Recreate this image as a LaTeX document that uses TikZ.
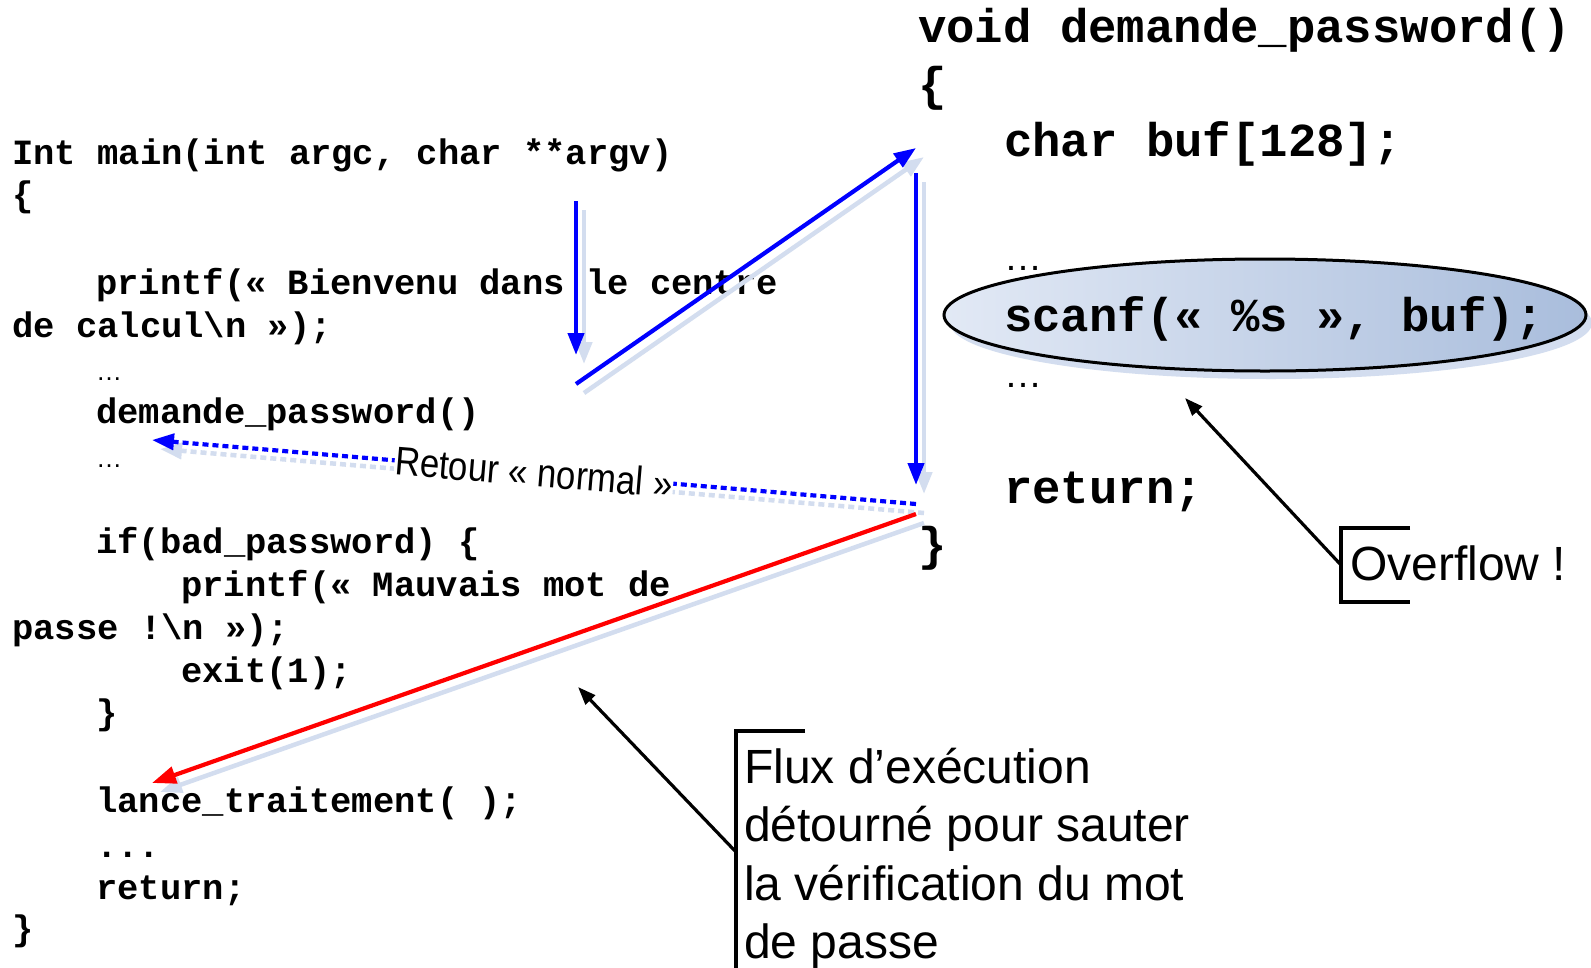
\documentclass[tikz,border=0pt]{standalone}
\usepackage{fontspec}
\usepackage{graphicx}
\setmainfont{Liberation Sans}
\setmonofont{Liberation Mono}
\usetikzlibrary{arrows.meta}
\definecolor{shad}{HTML}{D3DDEF}
\definecolor{ellL}{HTML}{E2E9F5}
\definecolor{ellR}{HTML}{A9BDDC}
\newcommand\lcfont{\ttfamily\bfseries\fontsize{35.5}{40}\selectfont}
\newcommand\rcfont{\ttfamily\bfseries\fontsize{47.3}{52}\selectfont}
\begin{document}
\begin{tikzpicture}[x=1pt,y=-1pt,
 lc/.style={anchor=base west,inner sep=0pt,font=\lcfont},
 rc/.style={anchor=base west,inner sep=0pt,font=\rcfont},
 sdots/.style={anchor=base west,inner sep=0pt,font=\fontsize{26}{26}\selectfont},
 bdots/.style={anchor=base west,inner sep=0pt,font=\fontsize{38}{38}\selectfont},
 note/.style={anchor=base west,inner sep=0pt,font=\fontsize{48}{58}\selectfont},
 flow/.style={draw=blue,line width=4.2pt,-{Triangle[length=22pt,width=16pt]}},
 flowshadow/.style={draw=shad,line width=4.5pt,-{Triangle[length=22pt,width=16pt]}},
 callout/.style={draw=black,line width=3.2pt,-{Triangle[length=18pt,width=13pt]}},
 bracket/.style={draw=black,line width=3.2pt},
 sh/.style={shift={(8,9)}},
 ]
\useasboundingbox[fill=white] (0,0) rectangle (1591,967);

% ---- left code ----
\node[lc] (l1) at (12,164) {Int main(int argc, char **argv)};
\node[lc] (l2) at (12,206) {\{};
\node[lc] (l3) at (96,294) {printf(« Bienvenu dans le centre};
\node[lc] (l4) at (12,337) {de calcul\textbackslash n »);};
\node[sdots] (l5) at (96,380) {…};
\node[lc] (l6) at (96,423) {demande\_password()};
\node[sdots] (l7) at (96,467) {…};
\node[lc] (l8) at (96,553) {if(bad\_password) \{};
\node[lc] (l9) at (181,596) {printf(« Mauvais mot de};
\node[lc] (l10) at (12,639) {passe !\textbackslash n »);};
\node[lc] (l11) at (181,682) {exit(1);};
\node[lc] (l12) at (96,724) {\}};
\node[lc] (l13) at (96,812) {lance\_traitement( );};
\node[lc] (l14) at (96,857) {...};
\node[lc] (l15) at (96,899) {return;};
\node[lc] (l16) at (12,940) {\}};

% ---- right code ----
\fill[shad] (1271,323) ellipse [x radius=321, y radius=56];
\shade[left color=ellL,right color=ellR,draw=black,line width=3pt]
  (1265,315) ellipse [x radius=321, y radius=56];
\node[rc] (r1) at (918,42) {void demande\_password()};
\node[rc] (r2) at (918,100) {\{};
\node[rc] (r3) at (1004,156) {char buf[128];};
\node[bdots] (r4) at (1004,270) {…};
\node[rc] (r5) at (1004,331) {scanf(« \%s », buf);};
\node[bdots] (r6) at (1004,387) {…};
\node[rc] (r7) at (1004,503) {return;};
\node[rc] (r8) at (918,560) {\}};

% ---- flow arrows ----
\coordinate (a1) at (576,201); \coordinate (a2) at (576,355);
\coordinate (b1) at (576,384); \coordinate (b2) at (916,148);
\coordinate (c1) at (916,173); \coordinate (c2) at (916,485);
\coordinate (d1) at (916,504); \coordinate (d2) at (152,440);
\coordinate (e1) at (916,514); \coordinate (e2) at (152,783);

\draw[flowshadow] ([sh]a1) -- ([sh]a2);
\draw[flowshadow] ([sh]b1) -- ([sh]b2);
\draw[flowshadow] ([sh]c1) -- ([sh]c2);
\draw[flowshadow,dash pattern=on 6pt off 4pt] ([sh]d1) -- ([sh]d2);
\draw[flowshadow] ([sh]e1) -- ([sh]e2);

\draw[flow] (a1) -- (a2);
\draw[flow] (b1) -- (b2);
\draw[flow] (c1) -- (c2);
\draw[flow,dash pattern=on 6pt off 4pt] (d1) -- node[sloped,fill=white,inner sep=0.5pt,font=\fontsize{40}{40}\selectfont] (ret) {\scalebox{0.87}[1]{Retour « normal »}} (d2);
\draw[draw=red,line width=4.2pt,-{Triangle[length=24pt,width=17pt]}] (e1) -- (e2);

% ---- callouts ----
\coordinate (ob1) at (1410,528); \coordinate (ob2) at (1341,528);
\coordinate (ob3) at (1341,602); \coordinate (ob4) at (1410,602);
\coordinate (om) at (1341,565); \coordinate (ot) at (1185,398);
\draw[bracket] (ob1) -- (ob2) -- (ob3) -- (ob4);
\draw[callout] (om) -- (ot);
\node[note] (ov) at (1350,580) {Overflow !};

\coordinate (fb1) at (805,731); \coordinate (fb2) at (736,731);
\coordinate (fb3) at (736,970);
\coordinate (fm) at (736,852); \coordinate (ft) at (578,687);
\draw[bracket] (fb1) -- (fb2) -- (fb3);
\draw[callout] (fm) -- (ft);
\node[note] (f1) at (744,783) {Flux d’exécution};
\node[note] (f2) at (744,841) {détourné pour sauter};
\node[note] (f3) at (744,900) {la vérification du mot};
\node[note] (f4) at (744,958) {de passe};
\end{tikzpicture}
\end{document}
